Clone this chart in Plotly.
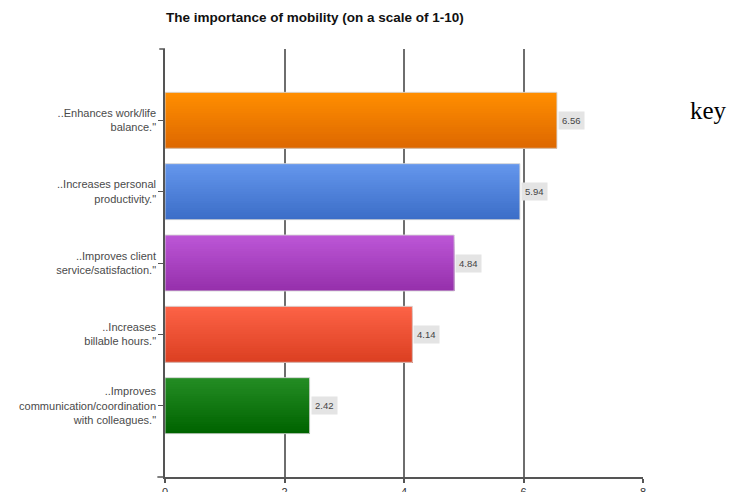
import plotly.graph_objects as go

# Survey results: perceived benefits of mobility, scored 1-10
categories = [
    '..Enhances work/life<br>balance."',
    '..Increases personal<br>productivity."',
    '..Improves client<br>service/satisfaction."',
    '..Increases<br>billable hours."',
    '..Improves<br>communication/coordination<br>with colleagues."',
]
scores = [6.56, 5.94, 4.84, 4.14, 2.42]
value_labels = ["6.56", "5.94", "4.84", "4.14", "2.42"]
x_ticks = [0, 2, 4, 6, 8]

# Vertical gradient per bar: (top colour, bottom colour)
gradients = [
    ((255, 142, 0), (222, 104, 0)),
    ((100, 150, 236), (60, 110, 200)),
    ((188, 86, 214), (150, 48, 172)),
    ((252, 98, 70), (220, 64, 34)),
    ((36, 140, 36), (0, 100, 0)),
]

BAR_W = 0.785
N_SLICES = 24

fig = go.Figure()

# Each bar is layered from slices that all run to the bar's lower edge;
# later slices start lower, so the stack reads as a top-to-bottom gradient
for i in range(N_SLICES):
    t = i / (N_SLICES - 1)
    cols = []
    for top, bot in gradients:
        r, g, b = (round(top[k] + (bot[k] - top[k]) * t) for k in range(3))
        cols.append(f"rgb({r},{g},{b})")
    start = -BAR_W / 2 + i * BAR_W / N_SLICES
    fig.add_trace(go.Bar(
        y=categories, x=scores, orientation="h",
        width=BAR_W / 2 - start,
        offset=start,
        marker=dict(color=cols, line=dict(width=0)),
        showlegend=False, hoverinfo="skip",
    ))

# Light outline around each bar
fig.add_trace(go.Bar(
    y=categories, x=scores, orientation="h",
    width=BAR_W, offset=-BAR_W / 2,
    marker=dict(color="rgba(0,0,0,0)", line=dict(color="rgba(215,215,215,0.9)", width=1)),
    showlegend=False, hoverinfo="skip",
))

# Value labels in grey boxes at the bar ends
for cat, val, lab in zip(categories, scores, value_labels):
    fig.add_annotation(
        x=val, y=cat, text=lab, showarrow=False,
        xanchor="left", xshift=1,
        font=dict(family="Arial, Liberation Sans, sans-serif", size=9.5, color="#444"),
        bgcolor="#e4e4e4", borderpad=3,
    )

# Side caption
fig.add_annotation(
    xref="paper", yref="paper", x=1.094, y=0.856, xanchor="left", yanchor="middle",
    text="key", showarrow=False,
    font=dict(family="Liberation Serif, Times New Roman, serif", size=25, color="#000"),
)

# Small end stubs on the axes
fig.add_shape(type="line", xref="paper", yref="paper", x0=-0.012, x1=0, y0=1, y1=1,
              line=dict(color="#555", width=1.5))
fig.add_shape(type="line", xref="paper", yref="paper", x0=-0.016, x1=0, y0=0, y1=0,
              line=dict(color="#555", width=1.5))

fig.update_layout(
    width=734, height=492,
    margin=dict(l=165, r=91, t=49, b=15),
    paper_bgcolor="white", plot_bgcolor="white",
    barmode="overlay",
    title=dict(
        text="<b>The importance of mobility (on a scale of 1-10)</b>",
        x=166 / 734, xanchor="left", xref="container",
        y=1 - 17 / 492, yanchor="middle",
        font=dict(family="Arial, Liberation Sans, sans-serif", size=13.5, color="#111"),
    ),
    xaxis=dict(
        range=[0, 8], tickvals=x_ticks, ticktext=[str(v) for v in x_ticks],
        automargin=False,
        showgrid=True, gridcolor="#6e6e6e", gridwidth=1.5,
        zeroline=False, showline=True, linecolor="#555", linewidth=1.5,
        ticks="outside", ticklen=4, tickcolor="#555", tickwidth=1.5,
        tickfont=dict(family="Arial, Liberation Sans, sans-serif", size=11, color="#333"),
    ),
    yaxis=dict(
        categoryorder="array", categoryarray=categories,
        range=[5, -1], automargin=False,
        showgrid=False, zeroline=False,
        showline=True, linecolor="#555", linewidth=1.5,
        ticks="outside", ticklen=5, tickcolor="#555", tickwidth=1,
        tickfont=dict(family="Arial, Liberation Sans, sans-serif", size=11, color="#4a4a4a"),
    ),
)

fig.write_html("out.html")
